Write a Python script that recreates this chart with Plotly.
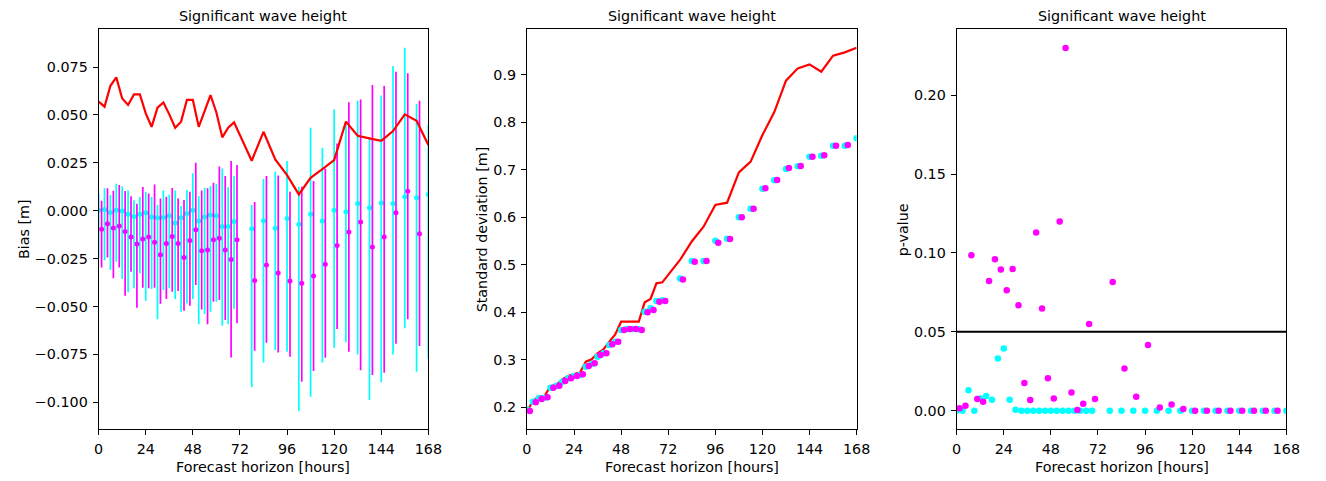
import plotly.graph_objects as go

# ---------------- data ----------------
LEADS = [0, 3, 6, 9, 12, 15, 18, 21, 24, 27, 30, 33, 36, 39, 42, 45, 48, 51, 54, 57,
         60, 63, 66, 69, 78, 84, 90, 96, 102, 108, 114, 120, 126, 132, 138, 144, 150,
         156, 162, 168]
X_TICKS = [0, 24, 48, 72, 96, 120, 144, 168]
OFFSET_B = 1.5  # horizontal offset of the second (magenta) series

# Panel 1: bias
BIAS_RED = [0.0569, 0.0543, 0.0652, 0.0696, 0.0586, 0.0552, 0.0607, 0.0607, 0.0508, 0.0438,
            0.0538, 0.0565, 0.0503, 0.0433, 0.0465, 0.0579, 0.0579, 0.0438, 0.0520, 0.0604,
            0.0513, 0.0383, 0.0433, 0.0461, 0.0261, 0.0412, 0.0268, 0.0186, 0.0085, 0.0172,
            0.0217, 0.0264, 0.0465, 0.0391, 0.0378, 0.0365, 0.0416, 0.0503, 0.0470, 0.0343]
BIAS_C_MEAN = [0.0003, 0.0007, -0.0009, 0.0003, -0.0002, -0.0019, -0.0030, -0.0019, -0.0010, -0.0033,
               -0.0037, -0.0035, -0.0026, -0.0064, -0.0037, -0.0014, 0.0002, -0.0054, -0.0033, -0.0023,
               -0.0026, -0.0082, -0.0082, -0.0056, -0.0094, -0.0052, -0.0092, -0.0040, -0.0071, -0.0019,
               -0.0054, 0.0003, -0.0005, 0.0038, 0.0016, 0.0040, 0.0038, 0.0073, 0.0068, 0.0085]
BIAS_C_UP = [0.0090, 0.0117, 0.0082, 0.0141, 0.0127, 0.0106, 0.0054, 0.0071, 0.0099, 0.0071,
             0.0030, 0.0106, 0.0085, 0.0106, 0.0024, 0.0108, 0.0195, 0.0077, 0.0118, 0.0129,
             0.0139, 0.0221, 0.0124, 0.0181, 0.0030, 0.0165, 0.0204, 0.0259, 0.0125, 0.0433,
             0.0329, 0.0529, 0.0461, 0.0574, 0.0378, 0.0602, 0.0755, 0.0851, 0.0557, 0.0447]
BIAS_C_LO = [-0.0249, -0.0258, -0.0310, -0.0266, -0.0357, -0.0426, -0.0405, -0.0327, -0.0470, -0.0409,
             -0.0566, -0.0414, -0.0405, -0.0461, -0.0527, -0.0484, -0.0461, -0.0592, -0.0539, -0.0527,
             -0.0475, -0.0600, -0.0593, -0.0513, -0.0922, -0.0792, -0.0727, -0.0736, -0.1046, -0.0971,
             -0.0792, -0.0715, -0.0687, -0.0750, -0.0988, -0.0896, -0.0750, -0.0614, -0.0840, -0.0771]
BIAS_M_MEAN = [-0.0097, -0.0068, -0.0090, -0.0080, -0.0108, -0.0137, -0.0174, -0.0148, -0.0137, -0.0165,
               -0.0230, -0.0171, -0.0134, -0.0171, -0.0244, -0.0155, -0.0099, -0.0209, -0.0205, -0.0151,
               -0.0144, -0.0205, -0.0254, -0.0151, -0.0364, -0.0284, -0.0325, -0.0367, -0.0379, -0.0341,
               -0.0280, -0.0181, -0.0111, -0.0059, -0.0190, -0.0137, -0.0010, 0.0101, -0.0120, None]
BIAS_M_UP = [0.0052, 0.0117, 0.0104, 0.0134, 0.0103, 0.0075, 0.0037, 0.0124, 0.0090, 0.0137,
             0.0064, 0.0073, 0.0118, 0.0064, 0.0056, 0.0099, 0.0251, 0.0106, 0.0117, 0.0146,
             0.0231, 0.0181, 0.0259, 0.0238, 0.0045, 0.0181, 0.0184, 0.0099, 0.0125, 0.0155,
             0.0221, 0.0351, 0.0566, 0.0581, 0.0656, 0.0651, 0.0726, 0.0717, 0.0574, None]
BIAS_M_LO = [-0.0296, -0.0244, -0.0353, -0.0296, -0.0444, -0.0318, -0.0506, -0.0402, -0.0405, -0.0402,
             -0.0485, -0.0461, -0.0423, -0.0419, -0.0522, -0.0496, -0.0388, -0.0515, -0.0592, -0.0475,
             -0.0466, -0.0571, -0.0766, -0.0588, -0.0731, -0.0689, -0.0740, -0.0762, -0.0893, -0.0837,
             -0.0767, -0.0618, -0.0736, -0.0833, -0.0858, -0.0846, -0.0694, -0.0567, -0.0706, None]

# Panel 2: standard deviation
STD_RED = [0.190, 0.2127, 0.2218, 0.2232, 0.2443, 0.2464, 0.2583, 0.2654, 0.2696, 0.2724,
           0.2956, 0.3005, 0.3131, 0.3216, 0.3377, 0.3532, 0.3799, 0.3799, 0.3799, 0.3799,
           0.4207, 0.4277, 0.4607, 0.4628, 0.510, 0.549, 0.580, 0.6259, 0.6308, 0.6947,
           0.7172, 0.7734, 0.8212, 0.888, 0.914, 0.9224, 0.9070, 0.9407, 0.9477, 0.9576]
STD_C = [0.195, 0.2112, 0.2183, 0.2197, 0.2408, 0.2450, 0.2534, 0.2604, 0.2654, 0.2675,
         0.2850, 0.2907, 0.3061, 0.3131, 0.3307, 0.3377, 0.3623, 0.3644, 0.3644, 0.3637,
         0.4010, 0.4080, 0.4235, 0.4249, 0.471, 0.508, 0.5078, 0.5507, 0.5549, 0.5999,
         0.6181, 0.6603, 0.6779, 0.7018, 0.7074, 0.7278, 0.7299, 0.7510, 0.7510, 0.7664]
STD_M = [0.1916, 0.2098, 0.2169, 0.2204, 0.2408, 0.2450, 0.2548, 0.2604, 0.2654, 0.2689,
         0.2864, 0.2921, 0.3096, 0.3131, 0.3321, 0.3377, 0.3623, 0.3644, 0.3644, 0.3623,
         0.3996, 0.4045, 0.4221, 0.4235, 0.469, 0.5065, 0.5078, 0.5465, 0.5542, 0.5999,
         0.6181, 0.6610, 0.6786, 0.7039, 0.7081, 0.7278, 0.7306, 0.7510, 0.7524, None]

# Panel 3: p-values
P_C = [0.0, 0.0, 0.0129, 0.0, 0.0078, 0.0093, 0.0070, 0.0331, 0.0395, 0.0070,
       0.0006, 0.0, 0.0, 0.0, 0.0, 0.0, 0.0, 0.0, 0.0, 0.0,
       0.0, 0.0, 0.0, 0.0, 0.0, 0.0, 0.0, 0.0, 0.0, 0.0,
       0.0, 0.0, 0.0, 0.0, 0.0, 0.0, 0.0, 0.0, 0.0, 0.0]
P_M = [0.0015, 0.0032, 0.0985, 0.0074, 0.0057, 0.0823, 0.0960, 0.0895, 0.0764, 0.0899,
       0.0669, 0.0175, 0.0068, 0.1129, 0.0648, 0.0205, 0.0078, 0.1200, 0.2300, 0.0116,
       0.0004, 0.0044, 0.0549, 0.0074, 0.0816, 0.0268, 0.0089, 0.0416, 0.0021, 0.0040,
       0.0011, 0.0, 0.0, 0.0, 0.0, 0.0, 0.0, 0.0, 0.0, None]
P_THRESHOLD = 0.05

TITLE = "Significant wave height"
X_LABEL = "Forecast horizon [hours]"
Y_LABELS = ["Bias [m]", "Standard deviation [m]", "p-value"]

# ---------------- styling ----------------
W, H = 1326, 481
CYAN, MAGENTA, RED = "#00FFFF", "#FF00FF", "#FF0000"
FONT = "DejaVu Sans"
FS = 14.3
X_PIX = [(95, 429.5), (529.5, 864), (965.5, 1300)]
Y_PIX = (29.3, 429.3)
YLABEL_X = [20, 484, 911]
TITLE_Y = 16
XLABEL_Y = 467
y_dom = [1 - Y_PIX[1] / H, 1 - Y_PIX[0] / H]

x_b = [l + OFFSET_B for l in LEADS]


def err(up, mean, lo):
    plus = [None if m is None else u - m for u, m in zip(up, mean)]
    minus = [None if m is None else m - l for l, m in zip(lo, mean)]
    return plus, minus


fig = go.Figure()

# Panel 1
cp, cm = err(BIAS_C_UP, BIAS_C_MEAN, BIAS_C_LO)
mp, mm = err(BIAS_M_UP, BIAS_M_MEAN, BIAS_M_LO)
fig.add_trace(go.Scatter(x=LEADS, y=BIAS_C_MEAN, mode="markers",
                         marker=dict(color=CYAN, size=5),
                         error_y=dict(type="data", symmetric=False, array=cp, arrayminus=cm,
                                      color=CYAN, thickness=1.7, width=0),
                         xaxis="x", yaxis="y"))
fig.add_trace(go.Scatter(x=x_b, y=BIAS_M_MEAN, mode="markers",
                         marker=dict(color=MAGENTA, size=5),
                         error_y=dict(type="data", symmetric=False, array=mp, arrayminus=mm,
                                      color=MAGENTA, thickness=1.7, width=0),
                         xaxis="x", yaxis="y"))
fig.add_trace(go.Scatter(x=LEADS, y=BIAS_RED, mode="lines", line=dict(color=RED, width=2.2),
                         xaxis="x", yaxis="y"))

# Panel 2
fig.add_trace(go.Scatter(x=LEADS, y=STD_RED, mode="lines", line=dict(color=RED, width=2.2),
                         xaxis="x2", yaxis="y2"))
fig.add_trace(go.Scatter(x=LEADS, y=STD_C, mode="markers", marker=dict(color=CYAN, size=6.5),
                         xaxis="x2", yaxis="y2"))
fig.add_trace(go.Scatter(x=x_b, y=STD_M, mode="markers", marker=dict(color=MAGENTA, size=6.5),
                         xaxis="x2", yaxis="y2"))

# Panel 3
fig.add_trace(go.Scatter(x=LEADS, y=P_C, mode="markers", marker=dict(color=CYAN, size=6.5),
                         xaxis="x3", yaxis="y3"))
fig.add_trace(go.Scatter(x=x_b, y=P_M, mode="markers", marker=dict(color=MAGENTA, size=6.5),
                         xaxis="x3", yaxis="y3"))

axis_common = dict(showline=True, mirror=True, linecolor="black", linewidth=1,
                   ticks="outside", ticklen=5, tickwidth=1, tickcolor="black",
                   ticklabelstandoff=2,
                   showgrid=False, zeroline=False,
                   tickfont=dict(family=FONT, size=FS, color="black"))

y_specs = [
    dict(range=[-0.1141, 0.0947], tickvals=[-0.1, -0.075, -0.05, -0.025, 0.0, 0.025, 0.05, 0.075],
         tickformat=".3f"),
    dict(range=[0.1530, 0.9963], tickvals=[0.2, 0.3, 0.4, 0.5, 0.6, 0.7, 0.8, 0.9], tickformat=".1f"),
    dict(range=[-0.0118, 0.2418], tickvals=[0.0, 0.05, 0.10, 0.15, 0.20], tickformat=".2f"),
]

layout_axes = {}
annotations = []
for i in range(3):
    sfx = "" if i == 0 else str(i + 1)
    x0, x1 = X_PIX[i]
    layout_axes["xaxis" + sfx] = dict(axis_common, domain=[x0 / W, x1 / W], range=[0, 168],
                                      tickvals=X_TICKS, anchor="y" + sfx)
    layout_axes["yaxis" + sfx] = dict(axis_common, domain=y_dom, anchor="x" + sfx, **y_specs[i])
    xc = (x0 + x1) / 2 / W
    annotations.append(dict(text=TITLE, x=xc, y=1 - TITLE_Y / H, xref="paper", yref="paper",
                            xanchor="center", yanchor="middle", showarrow=False,
                            font=dict(family=FONT, size=FS, color="black")))
    annotations.append(dict(text=X_LABEL, x=xc, y=1 - XLABEL_Y / H, xref="paper", yref="paper",
                            xanchor="center", yanchor="middle", showarrow=False,
                            font=dict(family=FONT, size=FS, color="black")))
    annotations.append(dict(text=Y_LABELS[i], x=YLABEL_X[i] / W, y=(y_dom[0] + y_dom[1]) / 2,
                            xref="paper", yref="paper", textangle=-90,
                            xanchor="center", yanchor="middle", showarrow=False,
                            font=dict(family=FONT, size=FS, color="black")))

fig.update_layout(
    width=W, height=H,
    margin=dict(l=0, r=0, t=0, b=0, pad=0),
    paper_bgcolor="white", plot_bgcolor="white",
    showlegend=False,
    annotations=annotations,
    shapes=[dict(type="line", xref="x3 domain", yref="y3", x0=0, x1=1,
                 y0=P_THRESHOLD, y1=P_THRESHOLD, line=dict(color="black", width=2))],
    **layout_axes,
)

fig.write_html("out.html")
